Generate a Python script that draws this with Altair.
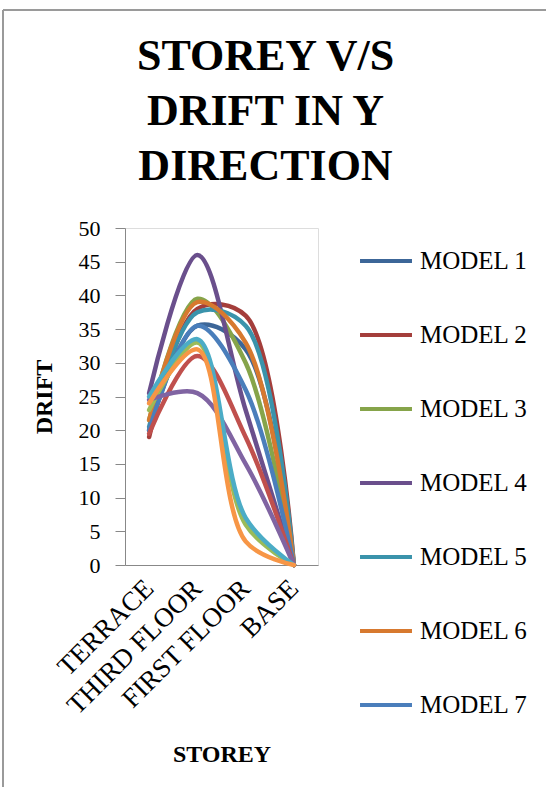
import altair as alt
import pandas as pd

storeys = ["TERRACE", "THIRD FLOOR", "FIRST FLOOR", "BASE"]
models = ["MODEL 1", "MODEL 2", "MODEL 3", "MODEL 4", "MODEL 5", "MODEL 6", "MODEL 7",
          "MODEL 8", "MODEL 9", "MODEL 10", "MODEL 11", "MODEL 12"]
legend_models = models[:7]

m1 = [20.0, 35.5, 32.0, 0.0]
m2 = [19.0, 38.0, 37.0, 0.0]
m3 = [21.5, 39.5, 30.0, 0.0]
m4 = [25.5, 46.0, 23.0, 0.0]
m5 = [20.5, 37.5, 35.5, 0.0]
m6 = [21.5, 39.0, 33.0, 0.0]
m7 = [20.0, 35.5, 26.0, 0.0]
m8 = [19.5, 31.0, 19.0, 0.0]
m9 = [23.0, 33.0, 6.0, 0.0]
m10 = [24.5, 25.5, 15.0, 0.0]
m11 = [25.0, 33.5, 7.0, 0.0]
m12 = [24.0, 32.0, 3.5, 0.0]
series = [m1, m2, m3, m4, m5, m6, m7, m8, m9, m10, m11, m12]

colors = ["#3C6698", "#A43E3B", "#86A44A", "#6A4F8C", "#3A93AB", "#D7792F", "#4A7EBB",
          "#C0504D", "#9BBB59", "#8064A2", "#4BACC6", "#F79646"]

rows = []
for mi, (name, vals) in enumerate(zip(models, series)):
    for si, (s, v) in enumerate(zip(storeys, vals)):
        rows.append({"model": name, "storey": s, "drift": v, "mi": mi, "si": si})
df = pd.DataFrame(rows)

FONT = "Liberation Serif"
AX = "#868686"

lines = alt.Chart(df).mark_line(
    interpolate="catmull-rom", strokeWidth=4.5, strokeCap="round", strokeJoin="round"
).encode(
    x=alt.X("storey:N", sort=storeys,
            scale=alt.Scale(type="point", padding=0.5),
            axis=alt.Axis(title="STOREY", labelAngle=-45, labelAlign="right",
                          labelBaseline="middle", labelFontSize=27, labelPadding=19,
                          labelFont=FONT, titleFont=FONT, labelColor="black",
                          titleColor="black", titleFontWeight="bold",
                          ticks=False, titleFontSize=24, titlePadding=24)),
    y=alt.Y("drift:Q", scale=alt.Scale(domain=[0, 50], nice=False),
            axis=alt.Axis(title="DRIFT", values=list(range(0, 51, 5)), tickSize=10,
                          labelPadding=15, labelFontSize=22, grid=False,
                          labelFont=FONT, titleFont=FONT, labelColor="black",
                          titleColor="black", titleFontWeight="bold",
                          titleFontSize=24, titlePadding=22)),
    color=alt.Color("model:N", scale=alt.Scale(domain=models, range=colors),
                    legend=alt.Legend(values=legend_models, title=None, orient="none",
                                      legendX=233, legendY=5, symbolType="stroke",
                                      symbolSize=2700, symbolStrokeWidth=4,
                                      labelFontSize=25, labelFont=FONT, labelColor="black",
                                      rowPadding=33, labelOffset=6)),
    detail="mi:O",
    order="si:O",
)

# chart-area frame (left and top edges visible in the reference)
frame_left = alt.Chart(df).mark_rule(color="#9A9A9A", strokeWidth=1.5).encode(
    x=alt.value(-122), y=alt.value(-218), y2=alt.value(600)
)
frame_top = alt.Chart(df).mark_rule(color="#9A9A9A", strokeWidth=1.5).encode(
    x=alt.value(-122), x2=alt.value(450), y=alt.value(-218)
)

chart = alt.layer(frame_left, frame_top, lines).properties(
    width=193, height=337,
    title=alt.TitleParams(text=["STOREY V/S", "DRIFT IN Y", "DIRECTION"], font=FONT,
                          fontSize=44, fontWeight="bold", lineHeight=55, anchor="middle",
                          dx=44, offset=-180, color="black"),
    autosize="none",
    padding={"left": 125, "top": 228, "right": 228, "bottom": 222},
).configure_view(stroke=None).configure_axis(
    domainColor=AX, tickColor=AX, domainWidth=1.5, tickWidth=1.5,
    labelFont=FONT, titleFont=FONT, labelColor="black", titleColor="black",
    titleFontWeight="bold", grid=False
).configure(background="white", font=FONT)

chart.save("out.html", embed_options={"renderer": "svg", "actions": False})
